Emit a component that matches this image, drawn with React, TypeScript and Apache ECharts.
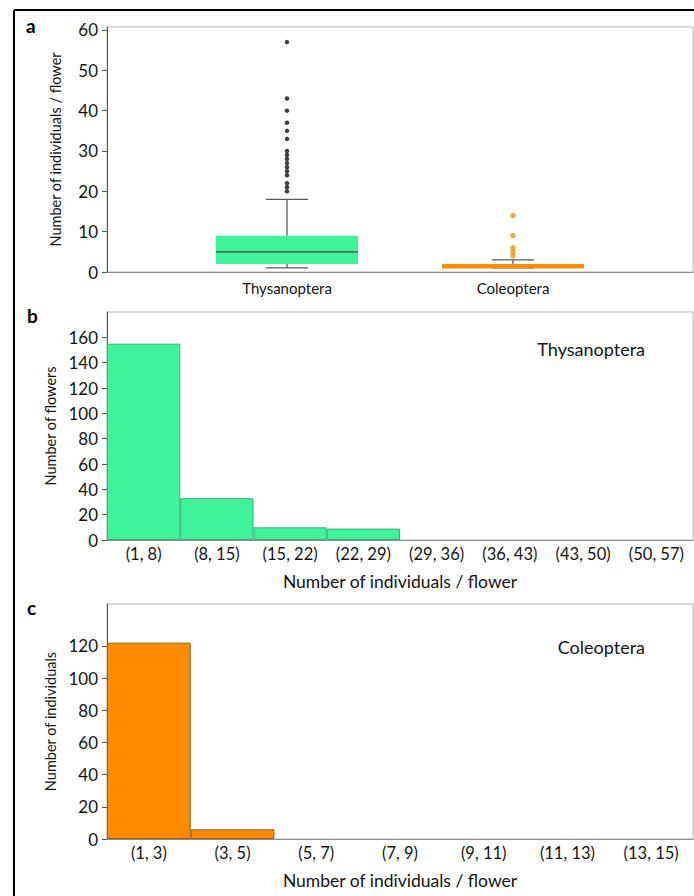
import React, { useEffect, useRef } from "react";
import * as echarts from "echarts";

// ---- Data ----
const boxCategories = ["Thysanoptera", "Coleoptera"];
const boxMin = [1, 1];
const boxQ1 = [2, 1];
const boxMedian = [5, 1];
const boxQ3 = [9, 2];
const boxMax = [18, 3];
const thysOutliers = [57, 43, 40, 37, 35, 33, 30, 29, 28, 27, 26, 25, 24, 22, 21, 20];
const coleoOutliers = [14, 9, 6, 5, 4];

const thysBins = ["(1, 8)", "(8, 15)", "(15, 22)", "(22, 29)", "(29, 36)", "(36, 43)", "(43, 50)", "(50, 57)"];
const thysCounts = [155, 33, 10, 9, 0, 0, 0, 0];

const coleoBins = ["(1, 3)", "(3, 5)", "(5, 7)", "(7, 9)", "(9, 11)", "(11, 13)", "(13, 15)"];
const coleoCounts = [122, 6, 0, 0, 0, 0, 0];

const yTicksA = [0, 10, 20, 30, 40, 50, 60];
const yTicksB = [0, 20, 40, 60, 80, 100, 120, 140, 160];
const yTicksC = [0, 20, 40, 60, 80, 100, 120];

// ---- Styles ----
const FONT = "Lato";
const GREEN = "#40F39A";
const ORANGE = "#FF8C00";
const boxFill = [GREEN, ORANGE];
const medianColor = ["#404040", ORANGE];
const WHISKER = "#595959";

export default function App() {
  const ref = useRef<HTMLDivElement>(null);
  useEffect(() => {
    if (!ref.current) return;
    const chart = echarts.init(ref.current, undefined, { renderer: "svg" });

    const labelStyle = { color: "#141414", fontFamily: FONT, fontSize: 17 };
    const yAxisCommon = (grid: number, max: number, ticks: number[], name: string) => ({
      type: "value",
      gridIndex: grid,
      min: 0,
      max,
      name,
      nameLocation: "middle",
      nameGap: 44,
      nameTextStyle: { color: "#141414", fontFamily: FONT, fontSize: 14.5 },
      axisLine: { show: true, lineStyle: { color: "#595959", width: 1 } },
      axisTick: { show: true, length: 5, customValues: ticks, lineStyle: { color: "#595959" } },
      axisLabel: { ...labelStyle, margin: 9, customValues: ticks },
      splitLine: { show: false },
    });
    const xCat = (grid: number, data: string[], name: string) => ({
      type: "category",
      gridIndex: grid,
      data,
      name,
      nameLocation: "middle",
      nameGap: 32,
      nameTextStyle: { color: "#141414", fontFamily: FONT, fontSize: 17.5 },
      axisLine: { show: true, lineStyle: { color: "#8c8c8c", width: 1 } },
      axisTick: { show: false },
      axisLabel: { ...labelStyle, fontSize: 16.5, margin: 5, interval: 0 },
      splitLine: { show: false },
    });

    const gridBorder = { show: true, borderColor: "#b5b5b5", borderWidth: 1, backgroundColor: "transparent" };
    const hideZero = (arr: number[]) => arr.map((v) => (v === 0 ? "-" : v));

    chart.setOption({
      animation: false,
      backgroundColor: "#fff",
      grid: [
        { left: 107, top: 27, width: 586, height: 245, ...gridBorder },
        { left: 174, top: 27, width: 452, height: 245, show: false },
        { left: 107, top: 312, width: 586, height: 228, ...gridBorder },
        { left: 107, top: 604, width: 586, height: 235, ...gridBorder },
      ],
      xAxis: [
        {
          type: "value",
          gridIndex: 0,
          min: 0,
          max: 1,
          axisLine: { show: true, onZero: false, lineStyle: { color: "#8c8c8c" } },
          axisTick: { show: false },
          axisLabel: { show: false },
          splitLine: { show: false },
        },
        {
          type: "category",
          gridIndex: 1,
          data: boxCategories,
          axisLine: { show: false },
          axisTick: { show: false },
          axisLabel: { ...labelStyle, fontSize: 15, margin: 8 },
          splitLine: { show: false },
        },
        xCat(2, thysBins, "Number of individuals / flower"),
        xCat(3, coleoBins, "Number of individuals / flower"),
      ],
      yAxis: [
        yAxisCommon(0, 60.74, yTicksA, "Number of individuals / flower"),
        {
          type: "value",
          gridIndex: 1,
          min: 0,
          max: 60.74,
          show: false,
          splitLine: { show: false },
        },
        yAxisCommon(2, 180, yTicksB, "Number of flowers"),
        yAxisCommon(3, 146, yTicksC, "Number of individuals"),
      ],
      series: [
        {
          type: "custom",
          xAxisIndex: 1,
          yAxisIndex: 1,
          data: boxCategories.map((_, i) => [i, boxMin[i], boxQ1[i], boxMedian[i], boxQ3[i], boxMax[i]]),
          renderItem: (params: any, api: any) => {
            const i = api.value(0);
            const pMin = api.coord([i, api.value(1)]);
            const pQ1 = api.coord([i, api.value(2)]);
            const pMed = api.coord([i, api.value(3)]);
            const pQ3 = api.coord([i, api.value(4)]);
            const pMax = api.coord([i, api.value(5)]);
            const cx = pMin[0];
            const half = 71;
            const cap = 21;
            const ls = { stroke: WHISKER, lineWidth: 1.3 };
            return {
              type: "group",
              children: [
                { type: "line", shape: { x1: cx, y1: pQ3[1], x2: cx, y2: pMax[1] }, style: ls },
                { type: "line", shape: { x1: cx, y1: pQ1[1], x2: cx, y2: pMin[1] }, style: ls },
                { type: "line", shape: { x1: cx - cap, y1: pMax[1], x2: cx + cap, y2: pMax[1] }, style: ls },
                { type: "line", shape: { x1: cx - cap, y1: pMin[1], x2: cx + cap, y2: pMin[1] }, style: ls },
                {
                  type: "rect",
                  shape: { x: cx - half, y: pQ3[1], width: half * 2, height: pQ1[1] - pQ3[1] },
                  style: { fill: boxFill[i] },
                },
                {
                  type: "line",
                  shape: { x1: cx - half, y1: pMed[1], x2: cx + half, y2: pMed[1] },
                  style: { stroke: medianColor[i], lineWidth: 1.3 },
                },
              ],
            };
          },
        },
        {
          type: "scatter",
          xAxisIndex: 1,
          yAxisIndex: 1,
          symbolSize: 4.5,
          itemStyle: { color: "#111" },
          data: thysOutliers.map((v) => [0, v]),
        },
        {
          type: "scatter",
          xAxisIndex: 1,
          yAxisIndex: 1,
          symbolSize: 5.5,
          itemStyle: { color: "#F7900A" },
          data: coleoOutliers.map((v) => [1, v]),
        },
        {
          type: "bar",
          xAxisIndex: 2,
          yAxisIndex: 2,
          barCategoryGap: "0%",
          data: hideZero(thysCounts),
          itemStyle: { color: GREEN, borderColor: "#34B27A", borderWidth: 1 },
        },
        {
          type: "bar",
          xAxisIndex: 3,
          yAxisIndex: 3,
          barCategoryGap: "0%",
          data: hideZero(coleoCounts),
          itemStyle: { color: ORANGE, borderColor: "#9C5A1E", borderWidth: 1 },
        },
      ],
      graphic: [
        { type: "line", shape: { x1: 14, y1: 10, x2: 694, y2: 10 }, style: { stroke: "#000", lineWidth: 2 } },
        { type: "line", shape: { x1: 14, y1: 10, x2: 14, y2: 896 }, style: { stroke: "#000", lineWidth: 2 } },
        { type: "text", x: 26, y: 16, style: { text: "a", fontFamily: FONT, fontWeight: "bold", fontSize: 19, fill: "#000" } },
        { type: "text", x: 27, y: 306, style: { text: "b", fontFamily: FONT, fontWeight: "bold", fontSize: 19, fill: "#000" } },
        { type: "text", x: 27, y: 598, style: { text: "c", fontFamily: FONT, fontWeight: "bold", fontSize: 19, fill: "#000" } },
        {
          type: "text",
          x: 645,
          y: 349,
          style: { text: "Thysanoptera", fontFamily: FONT, fontSize: 18, fill: "#141414", align: "right", verticalAlign: "middle" },
        },
        {
          type: "text",
          x: 645,
          y: 647,
          style: { text: "Coleoptera", fontFamily: FONT, fontSize: 18, fill: "#141414", align: "right", verticalAlign: "middle" },
        },
      ],
    });
    return () => chart.dispose();
  }, []);
  return <div ref={ref} style={{ position: "fixed", left: 0, top: 0, width: 694, height: 896 }} />;
}
